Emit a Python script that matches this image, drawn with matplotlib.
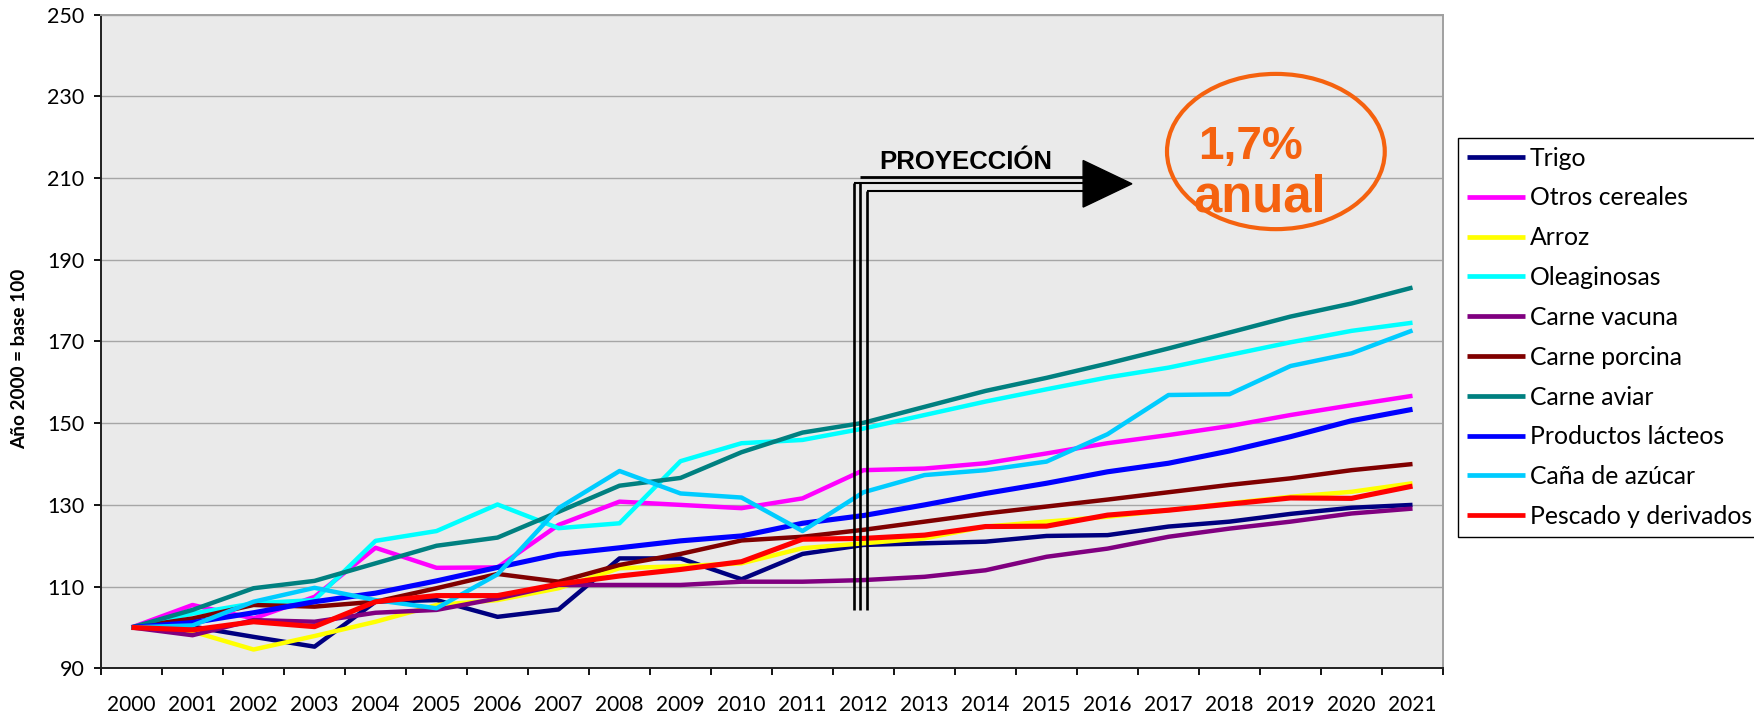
import matplotlib
matplotlib.use("Agg")
import matplotlib.pyplot as plt
from matplotlib.patches import Ellipse, Polygon

# categories (x axis)
years = [str(y) for y in range(2000, 2022)]

# index values, year 2000 = base 100
trigo = [100, 100.2, 97.7, 95.3, 106.3, 106.7, 102.6, 104.4, 116.9, 116.9, 111.8,
         118.0, 120.2, 120.6, 121.0, 122.4, 122.6, 124.7, 125.9, 127.8, 129.3, 130.0]
otros_cereales = [100, 105.5, 102.2, 107.5, 119.5, 114.6, 114.7, 125.1, 130.8, 130.0, 129.2,
                  131.6, 138.5, 138.9, 140.2, 142.6, 145.1, 147.1, 149.3, 152.0, 154.4, 156.7]
arroz = [100, 99.0, 94.6, 97.9, 101.4, 105.5, 106.7, 109.6, 114.5, 115.0, 115.7,
         119.4, 120.6, 121.8, 124.7, 125.9, 127.1, 128.7, 130.4, 132.0, 133.2, 135.3]
oleaginosas = [100, 103.4, 105.9, 106.7, 121.2, 123.6, 130.1, 124.3, 125.5, 140.7, 145.1,
               145.9, 148.7, 152.0, 155.3, 158.3, 161.2, 163.6, 166.7, 169.8, 172.6, 174.6]
carne_vacuna = [100, 98.1, 101.8, 101.4, 103.6, 104.3, 107.1, 110.4, 110.4, 110.4, 111.2,
                111.2, 111.6, 112.4, 114.0, 117.3, 119.3, 122.2, 124.2, 125.9, 127.9, 129.1]
carne_porcina = [100, 102.2, 105.5, 105.1, 106.3, 109.6, 113.1, 111.2, 115.3, 118.0, 121.3,
                 122.2, 123.9, 125.9, 127.9, 129.6, 131.3, 133.1, 134.9, 136.5, 138.5, 140.0]
carne_aviar = [100, 104.3, 109.6, 111.4, 115.7, 120.0, 122.0, 128.3, 134.7, 136.6, 142.9,
               147.7, 150.1, 154.0, 157.9, 161.1, 164.6, 168.3, 172.2, 176.1, 179.3, 183.2]
lacteos = [100, 101.2, 103.6, 106.3, 108.4, 111.4, 114.7, 117.9, 119.5, 121.2, 122.4,
           125.5, 127.4, 130.0, 132.8, 135.3, 138.1, 140.2, 143.2, 146.7, 150.6, 153.4]
cana_azucar = [100, 100.5, 106.3, 109.7, 106.7, 104.7, 113.0, 129.2, 138.3, 132.8, 131.8,
               123.6, 133.1, 137.3, 138.5, 140.6, 147.3, 156.9, 157.1, 164.0, 167.1, 172.7]
pescado = [100, 99.4, 101.4, 100.2, 106.3, 107.8, 107.8, 110.6, 112.6, 114.2, 116.1,
           121.6, 121.8, 122.6, 124.7, 124.8, 127.5, 128.7, 130.2, 131.7, 131.6, 134.6]

series = [
    ("Trigo", trigo, "#000080"),
    ("Otros cereales", otros_cereales, "#FF00FF"),
    ("Arroz", arroz, "#FFFF00"),
    ("Oleaginosas", oleaginosas, "#00FFFF"),
    ("Carne vacuna", carne_vacuna, "#800080"),
    ("Carne porcina", carne_porcina, "#800000"),
    ("Carne aviar", carne_aviar, "#008080"),
    ("Productos lácteos", lacteos, "#0000FF"),
    ("Caña de azúcar", cana_azucar, "#00CCFF"),
    ("Pescado y derivados", pescado, "#FF0000"),
]

orange = "#F5620F"
plt.rcParams["font.family"] = ["Lato", "DejaVu Sans"]

fig = plt.figure(figsize=(17.54, 7.19), dpi=100)
ax = fig.add_axes([0.0576, 0.0705, 0.7651, 0.9091])
ax.set_facecolor("#EAEAEA")

x = list(range(len(years)))
for name, vals, col in series:
    lw = 3.7 if name in ("Pescado y derivados", "Productos lácteos") else 3.2
    ax.plot(x, vals, color=col, lw=lw, label=name,
            solid_joinstyle="round", solid_capstyle="butt")

ax.set_xlim(-0.5, len(years) - 0.5)
ax.set_ylim(90, 250)
ax.set_yticks(range(90, 251, 20))
ax.yaxis.grid(True, color="#A6A6A6", lw=1.0)
ax.set_axisbelow(True)

# year labels centered, tick marks between categories
ax.set_xticks(x)
ax.set_xticklabels(years)
ax.set_xticks([i - 0.5 for i in range(len(years) + 1)], minor=True)
ax.tick_params(axis="x", which="major", length=0, pad=19, labelsize=15)
ax.tick_params(axis="x", which="minor", length=5, width=1.3, direction="out")
ax.tick_params(axis="y", length=5, width=1.3, direction="out", pad=7, labelsize=15.5)

for s in ("top", "right"):
    ax.spines[s].set_color("#A0A0A0")
    ax.spines[s].set_linewidth(1.4)
for s in ("left", "bottom"):
    ax.spines[s].set_color("#202020")
    ax.spines[s].set_linewidth(1.4)

ax.set_ylabel("Año 2000 = base 100", fontsize=13.7, fontweight="bold")
ax.yaxis.set_label_coords(-0.054, 0.473)

# bent "projection" arrow
for xv, ytop in ((11.85, 208.8), (11.95, 208.8), (12.05, 206.8)):
    ax.plot([xv, xv], [104.3, ytop], color="black", lw=1.9, solid_capstyle="butt",
            zorder=5)
ax.plot([11.95, 15.63], [210.3, 210.3], color="black", lw=2.0, solid_capstyle="butt", zorder=5)
ax.plot([11.85, 15.63], [208.8, 208.8], color="black", lw=1.5, solid_capstyle="butt", zorder=5)
ax.plot([12.05, 15.63], [206.8, 206.8], color="black", lw=1.5, solid_capstyle="butt", zorder=5)
ax.add_patch(Polygon([(15.6, 214.3), (16.4, 208.6), (15.6, 202.9)], closed=True,
                     facecolor="black", edgecolor="black", zorder=5))
ax.text(12.26, 212.2, "PROYECCIÓN", fontsize=18.5, fontweight="bold",
        family="Liberation Sans", ha="left", va="baseline", zorder=6)

# growth rate callout
ax.add_patch(Ellipse((18.76, 216.5), 3.57, 38.0, fill=False, edgecolor=orange,
                     lw=3.0, zorder=5))
ax.text(18.34, 214.6, "1,7%", fontsize=33, fontweight="bold", color=orange,
        family="Liberation Sans", ha="center", va="baseline", zorder=6)
ax.text(18.50, 201.8, "anual", fontsize=36.5, fontweight="bold", color=orange,
        family="Liberation Sans", ha="center", va="baseline", zorder=6)

leg = fig.legend(loc="upper left", bbox_to_anchor=(1458 / 1754, 1 - 138 / 719),
                 borderaxespad=0, fontsize=17.8, handlelength=2.35, handletextpad=0.2,
                 labelspacing=0.68, borderpad=0.35, fancybox=False, framealpha=1)
leg.get_frame().set_edgecolor("black")
leg.get_frame().set_linewidth(1.0)
for h in leg.get_lines():
    h.set_linewidth(3.4)

fig.savefig("out.png", dpi=100)
